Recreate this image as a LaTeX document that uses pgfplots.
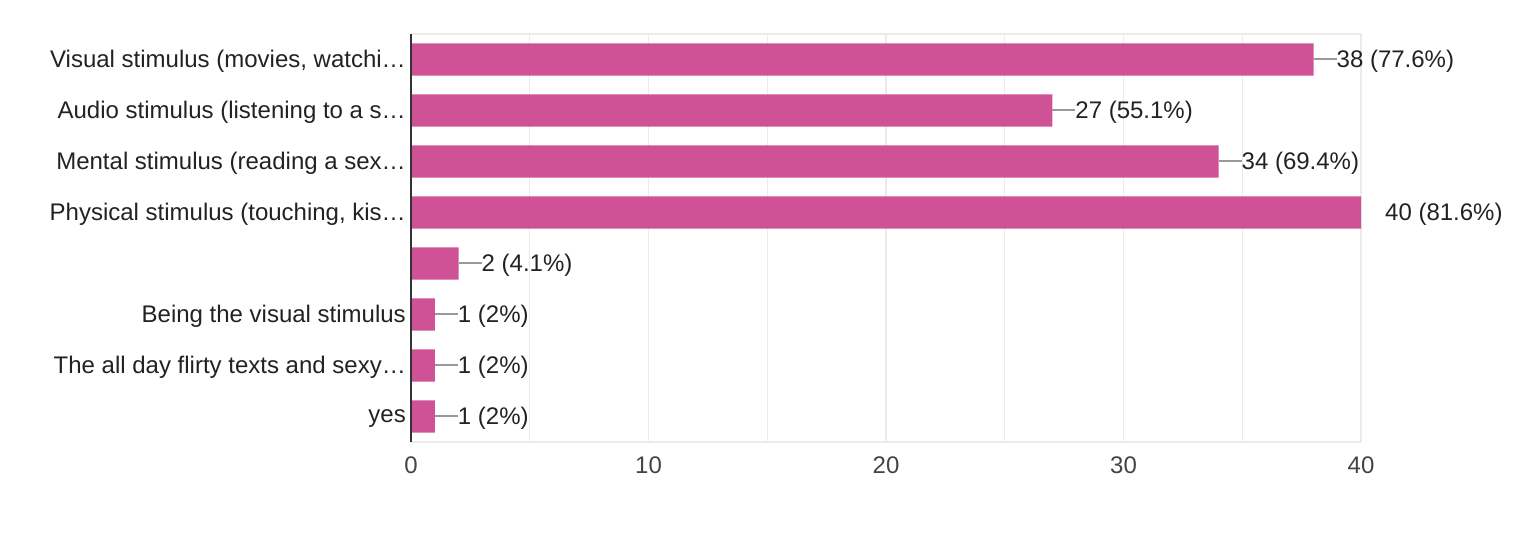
\documentclass[border=0pt]{standalone}
\usepackage{fontspec}
\setmainfont{Liberation Sans}
\usepackage{pgfplots}
\pgfplotsset{compat=1.18}
\definecolor{barc}{RGB}{207,81,150}
\definecolor{gridc}{RGB}{235,235,235}
\definecolor{txt}{RGB}{34,34,34}
\definecolor{tick}{RGB}{68,68,68}
\definecolor{conn}{RGB}{153,153,153}
\newcommand{\conn}{\textcolor{conn}{\rule[0.34em]{23pt}{1.3pt}}}
\begin{document}
\begin{tikzpicture}
\useasboundingbox (0,0) rectangle (1528pt,546pt);
\begin{axis}[
  at={(411pt,104pt)}, anchor=south west,
  scale only axis, width=950pt, height=408pt,
  xbar, bar width=0.63,
  xmin=0, xmax=40, ymin=-0.5, ymax=7.5, y dir=reverse,
  xtick={0,10,20,30,40}, minor xtick={5,15,25,35},
  ytick={0,...,7},
  yticklabels={{Visual stimulus (movies, watchi…}, {Audio stimulus (listening to a s…}, {Mental stimulus (reading a sex…}, {Physical stimulus (touching, kis…}, {}, {Being the visual stimulus}, {The all day flirty texts and sexy…}, {yes}},
  grid=both, major grid style={gridc, line width=1.3pt}, minor grid style={gridc, line width=1.3pt},
  ymajorgrids=false, yminorgrids=false,
  axis line style={gridc, line width=1.3pt},
  major tick length=0pt, minor tick length=0pt,
  /pgf/number format/assume math mode=true,
  tick label style={font=\fontsize{24}{28}\selectfont},
  xticklabel style={text=tick, inner sep=0pt, yshift=-15pt},
  yticklabel style={text=txt, inner sep=0pt, xshift=-5pt, yshift=-2pt},
  point meta=explicit symbolic,
  nodes near coords,
  nodes near coords style={anchor=west, inner sep=0pt, text=txt, yshift=-2pt, font=\fontsize{24}{28}\selectfont},
  clip=false,
  axis on top=false,
]
\addplot[fill=barc, draw=none] coordinates {
  (38,0) [\conn 38 (77.6\%)]
  (27,1) [\conn 27 (55.1\%)]
  (34,2) [\conn 34 (69.4\%)]
  (40,3) [\hspace{24pt}40 (81.6\%)]
  (2,4) [\conn 2 (4.1\%)]
  (1,5) [\conn 1 (2\%)]
  (1,6) [\conn 1 (2\%)]
  (1,7) [\conn 1 (2\%)]
};
\draw[color={rgb,255:red,51;green,51;blue,51}, line width=2pt] (rel axis cs:0,0) -- (rel axis cs:0,1);
\end{axis}
\end{tikzpicture}
\end{document}
